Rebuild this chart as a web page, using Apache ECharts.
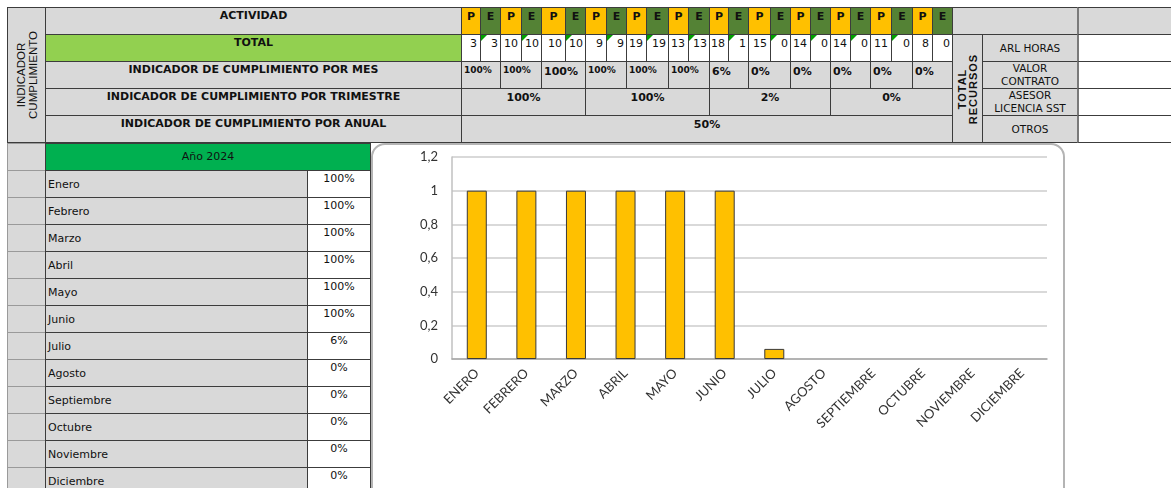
<!DOCTYPE html>
<html>
<head>
<meta charset="utf-8">
<script src="https://cdn.jsdelivr.net/npm/echarts/dist/echarts.min.js"></script>
<style>
body{margin:0;width:1171px;height:488px;overflow:hidden;position:relative;background:#fff;font-family:"DejaVu Sans",Verdana,sans-serif;}
.c{position:absolute;box-sizing:border-box;border:1px solid #3c3c3c;font-size:11px;line-height:13px;color:#111;overflow:hidden;white-space:nowrap;}
.rot{position:absolute;left:50%;top:50%;transform:translate(-50%,-50%) rotate(-90deg);text-align:center;white-space:nowrap;line-height:11px;}
.tri{position:absolute;left:0;top:0;width:0;height:0;border-top:6px solid #00a000;border-right:6px solid transparent;}
#chart{position:absolute;left:371px;top:143px;width:694px;height:360px;box-sizing:border-box;border:2px solid #b4b4b4;border-radius:14px;background:#fff;z-index:5;overflow:hidden;}
</style>
</head>
<body>
<div id="sheet"></div>
<div id="chart"></div>
<script>
// datos del tablero
const actividad = ['P','E','P','E','P','E','P','E','P','E','P','E','P','E','P','E','P','E','P','E','P','E','P','E'];
const totalP = [3, 10, 10, 9, 19, 13, 18, 15, 14, 14, 11, 8];
const totalE = [3, 10, 10, 9, 19, 13, 1, 0, 0, 0, 0, 0];
const porMes = ['100%','100%','100%','100%','100%','100%','6%','0%','0%','0%','0%','0%'];
const porTrimestre = ['100%','100%','2%','0%'];
const porAnual = '50%';
const filas = ['ACTIVIDAD','TOTAL','INDICADOR DE CUMPLIMIENTO POR MES','INDICADOR DE CUMPLIMIENTO POR TRIMESTRE','INDICADOR DE CUMPLIMIENTO POR ANUAL'];
const recursos = ['ARL HORAS','VALOR<br>CONTRATO','ASESOR<br>LICENCIA SST','OTROS'];
const mesesNombre = ['Enero','Febrero','Marzo','Abril','Mayo','Junio','Julio','Agosto','Septiembre','Octubre','Noviembre','Diciembre'];
const mesesPct = ['100%','100%','100%','100%','100%','100%','6%','0%','0%','0%','0%','0%'];

// datos de la grafica
const meses = ['ENERO','FEBRERO','MARZO','ABRIL','MAYO','JUNIO','JULIO','AGOSTO','SEPTIEMBRE','OCTUBRE','NOVIEMBRE','DICIEMBRE'];
const cumplimiento = [1, 1, 1, 1, 1, 1, 0.06, 0, 0, 0, 0, 0];

const gray = '#d9d9d9';
const sheet = document.getElementById('sheet');

function cell(x, y, w, h, html, css){
  const d = document.createElement('div');
  d.className = 'c';
  d.style.left = x + 'px';
  d.style.top = y + 'px';
  d.style.width = (w + 1) + 'px';
  d.style.height = (h + 1) + 'px';
  d.innerHTML = html;
  Object.assign(d.style, css || {});
  sheet.appendChild(d);
  return d;
}

// bordes de columnas P/E
const pe = [461,480,500,521,541,565,585,606,626,646,668,688,709,728,748,770,790,810,830,850,870,891,912,932,952];
const R = [7,34,61,88,115,142];

// columna izquierda
const izq = cell(7, 7, 38, 135, '', {background: gray});
izq.innerHTML = '<div class="rot" style="font-family:\'Liberation Sans\';font-size:11.5px;line-height:12px">INDICADOR<br>CUMPLIMIENTO</div>';

filas.forEach((t, i) => {
  cell(45, R[i], 416, 27, t, {background: i === 1 ? '#92d050' : gray, fontWeight:'bold', textAlign:'center', paddingTop:'1px'});
});

actividad.forEach((t, i) => {
  cell(pe[i], R[0], pe[i+1]-pe[i], 27, t, {background: i % 2 ? '#548235' : '#ffc000', fontWeight:'bold', textAlign:'center', paddingTop:'2px'});
});

for (let m = 0; m < 12; m++) {
  cell(pe[2*m], R[1], pe[2*m+1]-pe[2*m], 27, String(totalP[m]), {background:'#fff', textAlign:'right', paddingRight:'3px', paddingTop:'2px'});
  const e = cell(pe[2*m+1], R[1], pe[2*m+2]-pe[2*m+1], 27, String(totalE[m]), {background:'#fff', textAlign:'right', paddingRight:'2px', paddingTop:'2px'});
  if (m < 11) { const t = document.createElement('div'); t.className = 'tri'; e.appendChild(t); }
  const w = pe[2*m+2]-pe[2*m];
  const small = w < 43 && porMes[m].length > 3;
  cell(pe[2*m], R[2], w, 27, porMes[m], {background: gray, fontWeight:'bold', paddingLeft:'2px', paddingTop: small ? '2px' : '3px', fontSize: small ? '9px' : '11px'});
}
porTrimestre.forEach((t, q) => {
  cell(pe[6*q], R[3], pe[6*q+6]-pe[6*q], 27, t, {background: gray, fontWeight:'bold', textAlign:'center', paddingTop:'2px'});
});
cell(461, R[4], 491, 27, porAnual, {background: gray, fontWeight:'bold', textAlign:'center', paddingTop:'2px'});

// recursos
cell(952, R[0], 125, 27, '', {background: gray});
cell(1077, R[0], 100, 27, '', {background: gray, borderLeft:'2px solid #7a7a7a'});
const tr = cell(952, R[1], 30, 108, '', {background: gray});
tr.innerHTML = '<div class="rot" style="font-family:\'Liberation Sans\';font-weight:bold;font-size:11px;letter-spacing:1px">TOTAL<br>RECURSOS</div>';
recursos.forEach((t, i) => {
  cell(982, R[i+1], 95, 27, t, {background: gray, display:'flex', alignItems:'center', justifyContent:'center', textAlign:'center', lineHeight:'13px', fontSize:'10.5px'});
  cell(1077, R[i+1], 100, 27, '', {background:'#fff', borderLeft:'2px solid #7a7a7a'});
});

// lista mensual
const y0 = 143;
for (let k = 0; k < 13; k++) {
  cell(7, y0 + 27*k, 38, 27, '', {background: gray, borderColor:'#9a9a9a', borderRight:'1px solid #3c3c3c'});
}
cell(45, y0, 325, 27, 'Año 2024', {background:'#00b050', textAlign:'center', paddingTop:'6px'});
mesesNombre.forEach((t, k) => {
  const y = y0 + 27*(k+1);
  cell(45, y, 262, 27, t, {background: gray, paddingLeft:'2px', paddingTop:'7px'});
  cell(307, y, 63, 27, mesesPct[k], {background:'#fff', textAlign:'center', paddingTop:'1px'});
});

// grafica
const chart = echarts.init(document.getElementById('chart'));
chart.setOption({
  animation: false,
  grid: {left: 79, right: 16, top: 12, bottom: 142},
  xAxis: {
    type: 'category',
    data: meses,
    axisTick: {show: false},
    axisLine: {lineStyle: {color: '#a6a6a6', width: 1.5}},
    axisLabel: {rotate: 45, interval: 0, margin: 12, color: '#333', fontFamily: 'Lato', fontSize: 13}
  },
  yAxis: {
    type: 'value',
    min: 0, max: 1.2, interval: 0.2,
    axisLine: {show: true, lineStyle: {color: '#c0c0c0', width: 1.5}},
    splitLine: {lineStyle: {color: '#cccccc', width: 1.5}},
    axisLabel: {
      margin: 14, color: '#333', fontFamily: 'Lato', fontSize: 13,
      formatter: v => String(+v.toFixed(1)).replace('.', ',')
    }
  },
  series: [{
    type: 'bar',
    barWidth: 20,
    data: cumplimiento.map(v => v === 0 ? {value: 0, itemStyle: {borderWidth: 0}} : v),
    itemStyle: {color: '#ffc000', borderColor: '#3a3a3a', borderWidth: 1}
  }]
});
</script>
</body>
</html>
